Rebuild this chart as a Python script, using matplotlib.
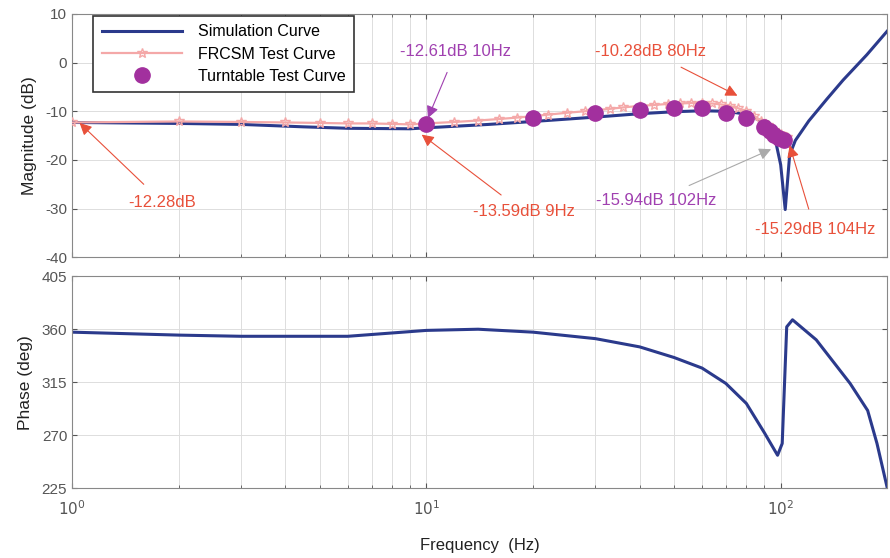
import matplotlib.pyplot as plt
import numpy as np

plt.rcParams['font.family'] = ['Liberation Sans', 'DejaVu Sans']
plt.rcParams['axes.unicode_minus'] = False

# Simulation curve (magnitude + phase)
sim_freq = [1, 2, 3, 4.5, 6, 9, 10, 15, 20, 30, 40, 50, 60, 70, 80, 88, 93, 97, 100, 103,
            106, 110, 120, 135, 150, 175, 200]
sim_mag = [-12.3, -12.5, -12.7, -13.2, -13.5, -13.6, -13.4, -12.7, -12.1, -11.2, -10.5, -10.1,
           -9.9, -10.0, -10.6, -12.0, -13.8, -16.5, -21.0, -30.2, -19.0, -16.0, -12.0, -7.5,
           -3.6, 1.6, 6.5]

ph_freq = [1, 2, 3, 5, 6, 10, 14, 20, 30, 40, 50, 60, 70, 80, 90, 98, 101, 104, 108, 126,
           157, 176, 187, 200]
ph_deg = [357.5, 355, 354, 354, 354, 359, 360, 357.5, 352, 345, 336, 327, 314, 297, 272, 253,
          263, 362, 368, 351, 314, 291, 263, 225]

# FRCSM test curve
frc_freq = [1, 2, 3, 4, 5, 6, 7, 8, 9, 10, 12, 14, 16, 18, 20, 22, 25, 28, 30, 33, 36, 40,
            44, 48, 52, 56, 60, 64, 68, 72, 76, 80, 84, 88, 92, 96, 100, 102, 104]
frc_mag = [-12.3, -12.1, -12.2, -12.3, -12.4, -12.5, -12.5, -12.6, -12.7, -12.5, -12.2, -11.9,
           -11.6, -11.3, -11.0, -10.7, -10.3, -10.0, -9.8, -9.5, -9.2, -8.9, -8.7, -8.5, -8.4,
           -8.3, -8.3, -8.4, -8.6, -8.9, -9.4, -10.0, -10.9, -11.9, -12.9, -13.8, -14.6,
           -15.0, -15.3]

# Turntable test curve
tt_freq = [10, 20, 30, 40, 50, 60, 70, 80, 90, 93, 96, 99, 102]
tt_mag = [-12.61, -11.4, -10.4, -9.8, -9.4, -9.4, -10.4, -11.4, -13.2, -14.0, -14.8, -15.4, -15.94]

mag_ticks = [10, 0, -10, -20, -30, -40]
ph_ticks = [405, 360, 315, 270, 225]

blue = '#2b3a8c'
pink = '#f4a8a8'
purple = '#a2309e'
red = '#e8503a'
ptext = '#a040b0'
gray = '#555555'

fig = plt.figure(figsize=(8.9, 5.58), dpi=100)
ax1 = fig.add_axes([0.081, 0.539, 0.916, 0.436])
ax2 = fig.add_axes([0.081, 0.125, 0.916, 0.380])

for ax in (ax1, ax2):
    ax.set_xscale('log')
    ax.set_xlim(1, 200)
    ax.grid(True, which='both', color='#dddddd', linewidth=0.7)
    ax.tick_params(which='both', direction='in', colors=gray, labelsize=11, top=True, right=True)
    for s in ax.spines.values():
        s.set_color('#888888')

ax1.plot(sim_freq, sim_mag, color=blue, linewidth=2.2, label='Simulation Curve', zorder=3)
ax1.plot(frc_freq, frc_mag, color=pink, linewidth=1.6, marker='*', markersize=7,
         markerfacecolor='none', markeredgecolor=pink, label='FRCSM Test Curve', zorder=4)
ax1.plot(tt_freq, tt_mag, linestyle='none', marker='o', markersize=11, color=purple,
         label='Turntable Test Curve', zorder=5)
ax1.set_ylim(-40, 10)
ax1.set_yticks(mag_ticks)
ax1.tick_params(axis='x', which='both', labelbottom=False)
ax1.set_ylabel('Magnitude (dB)', fontsize=12.5, color='#222222', labelpad=6)
leg = ax1.legend(loc='upper left', bbox_to_anchor=(0.024, 1.0), fontsize=11.5, fancybox=False,
                 edgecolor='#333333', framealpha=1, borderpad=0.55, labelspacing=0.45,
                 handlelength=5.0, handletextpad=1.0, borderaxespad=0.1)
leg.get_frame().set_linewidth(1.2)

def note(text, xy, xytext, color, acolor):
    ax1.annotate(text, xy=xy, xytext=xytext, color=color, fontsize=12, ha='center', va='center',
                 arrowprops=dict(arrowstyle='-|>', color=acolor, lw=0.8, mutation_scale=18,
                                 shrinkA=8, shrinkB=0), zorder=6)

note('-12.28dB', (1.05, -12.4), (1.8, -28.7), red, red)
note('-12.61dB 10Hz', (10.1, -11.4), (12.1, 2.2), ptext, ptext)
note('-13.59dB 9Hz', (9.7, -14.8), (18.8, -30.7), red, red)
note('-10.28dB 80Hz', (75.5, -6.8), (43.0, 2.2), red, red)
note('-15.94dB 102Hz', (94.0, -17.8), (44.4, -28.3), ptext, '#aaaaaa')
note('-15.29dB 104Hz', (106.0, -17.0), (125.0, -34.4), red, red)

ax2.plot(ph_freq, ph_deg, color=blue, linewidth=2.2)
ax2.set_ylim(225, 405)
ax2.set_yticks(ph_ticks)
ax2.set_xticks([1, 10, 100])
ax2.set_xticklabels(['$10^0$', '$10^1$', '$10^2$'])
ax2.tick_params(axis='x', which='major', pad=8, labelsize=11)
ax2.set_ylabel('Phase (deg)', fontsize=12.5, color='#222222', labelpad=6)
ax2.set_xlabel('Frequency  (Hz)', fontsize=12, color='#222222', labelpad=14)

fig.savefig('out.png', dpi=100)
